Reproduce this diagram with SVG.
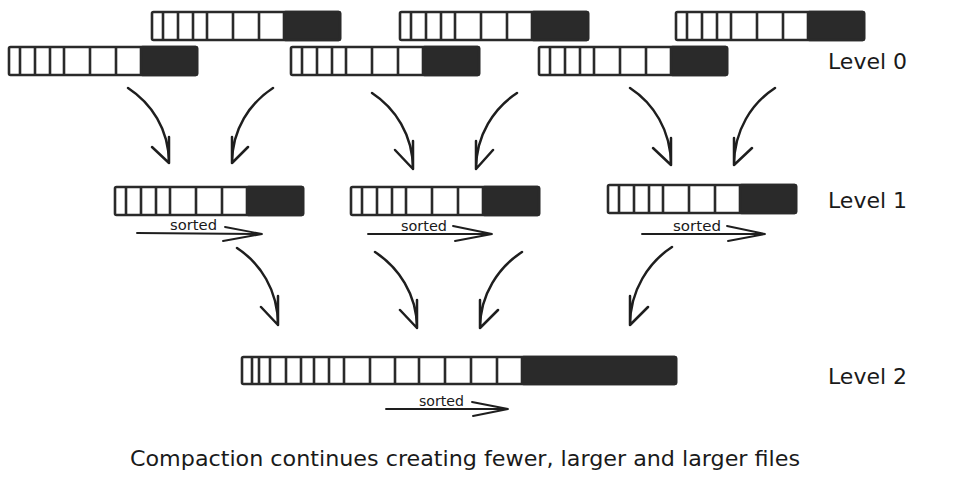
<svg xmlns="http://www.w3.org/2000/svg" xmlns:xlink="http://www.w3.org/1999/xlink" width="978" height="482" viewBox="0 0 978 482">
<style>
.box{fill:#fff;stroke:#2a2a2a;stroke-width:2.6}
.dark{fill:#2a2a2a;stroke:#2a2a2a;stroke-width:2.6}
.div{stroke:#2a2a2a;stroke-width:2.6}
.conn{fill:none;stroke:#1e1e1e;stroke-width:2.5;stroke-linecap:round;stroke-linejoin:round}
.sort{fill:none;stroke:#1e1e1e;stroke-width:1.9;stroke-linecap:round}
.lvl{font-family:"DejaVu Sans",sans-serif;font-size:22px;fill:#1a1a1a}
.small{font-family:"DejaVu Sans",sans-serif;font-size:14px;fill:#1a1a1a}
.cap{font-family:"DejaVu Sans",sans-serif;font-size:22px;fill:#1a1a1a}
</style>
<defs>
<g id="blk">
<rect class="box" x="0" y="0" width="188" height="28" rx="1.5"/>
<rect class="dark" x="132" y="0" width="56" height="28" rx="1.5"/>
<path class="div" d="M11,0V28M26,0V28M41,0V28M55,0V28M81,0V28M107,0V28"/>
</g>
</defs>
<rect width="978" height="482" fill="#fff"/>
<g id="l0a"><use xlink:href="#blk" x="152" y="12"/></g>
<g id="l0b"><use xlink:href="#blk" x="400" y="12"/></g>
<g id="l0c"><use xlink:href="#blk" x="676" y="12"/></g>
<g id="l0d"><use xlink:href="#blk" x="9" y="47"/></g>
<g id="l0e"><use xlink:href="#blk" x="291" y="47"/></g>
<g id="l0f"><use xlink:href="#blk" x="539" y="47"/></g>
<g id="l1a"><use xlink:href="#blk" x="115" y="187"/></g>
<g id="l1b"><use xlink:href="#blk" x="351" y="187"/></g>
<g id="l1c"><use xlink:href="#blk" x="608" y="185"/></g>
<g id="l2">
<rect class="box" x="242" y="357" width="434" height="27" rx="1.5"/>
<rect class="dark" x="522" y="357" width="154" height="27" rx="1.5"/>
<path class="div" d="M252,357V384M259,357V384M270,357V384M286,357V384M301,357V384M314,357V384M329,357V384M344,357V384M370,357V384M395,357V384M419,357V384M445,357V384M471,357V384M497,357V384"/>
</g>
<g id="labels">
<text class="lvl" x="828" y="69">Level 0</text>
<text class="lvl" x="828" y="208">Level 1</text>
<text class="lvl" x="828" y="384">Level 2</text>
<text class="small" x="170" y="230" textLength="47" lengthAdjust="spacingAndGlyphs">sorted</text>
<text class="small" x="401" y="231" textLength="46" lengthAdjust="spacingAndGlyphs">sorted</text>
<text class="small" x="673" y="231" textLength="48" lengthAdjust="spacingAndGlyphs">sorted</text>
<text class="small" x="419" y="406" textLength="45" lengthAdjust="spacingAndGlyphs">sorted</text>
<text class="cap" x="130" y="466" textLength="670" lengthAdjust="spacingAndGlyphs">Compaction continues creating fewer, larger and larger files</text>
</g>
<g id="connectors">
<path class="conn" d="M128,88 C151,103 169,129 169,163 M152,147 L169,163 L169,137"/>
<path class="conn" d="M273,88 C250,103 232,129 232,163 M248,147 L232,163 L232,137"/>
<path class="conn" d="M372,93 C395,108 413,135 413,169 M395,150 L413,169 L413,141"/>
<path class="conn" d="M517,93 C494,108 476,135 476,169 M493,150 L476,169 L476,141"/>
<path class="conn" d="M630,88 C653,103 671,130 671,165 M653,148 L671,165 L671,138"/>
<path class="conn" d="M775,88 C752,103 734,130 734,165 M752,148 L734,165 L734,138"/>
<path class="conn" d="M237,248 C260,263 278,290 278,325 M261,307 L278,325 L278,296"/>
<path class="conn" d="M375,252 C398,267 417,294 417,328 M400,310 L417,328 L417,300"/>
<path class="conn" d="M522,252 C499,267 480,294 480,328 M498,310 L480,328 L480,300"/>
<path class="conn" d="M672,247 C649,262 630,290 630,325 M648,307 L630,325 L630,296"/>
<path class="sort" d="M137,233 L262,234 M225,227 L262,234 L223,241"/>
<path class="sort" d="M368,234 L492,234 M453,226 L492,234 L455,241"/>
<path class="sort" d="M642,234 L765,234 M727,226 L765,234 L728,241"/>
<path class="sort" d="M386,409 L508,409 M472,402 L508,409 L473,416"/>
</g>
</svg>
